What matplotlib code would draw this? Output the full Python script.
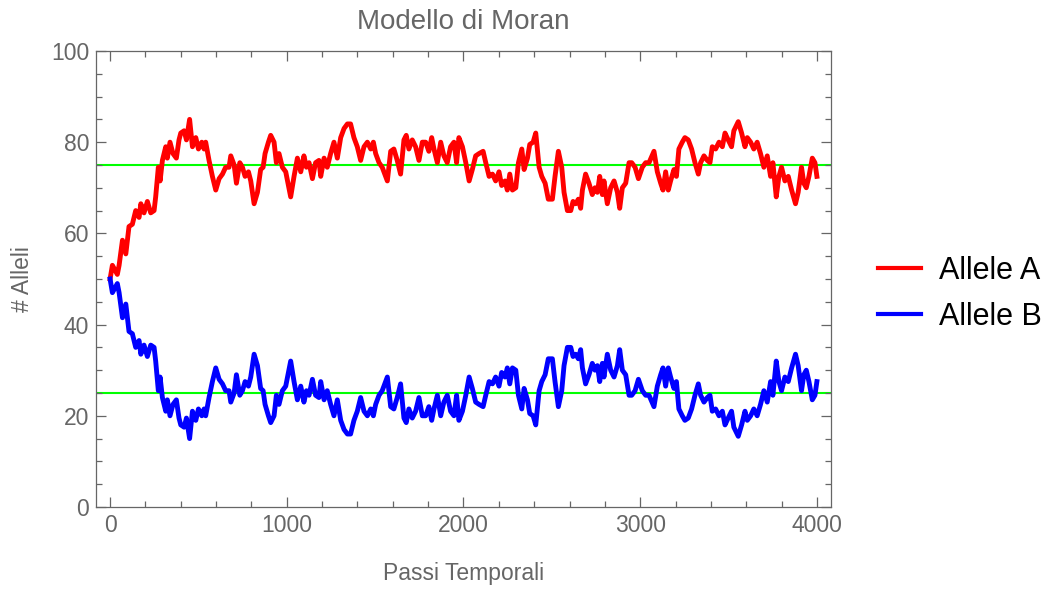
import matplotlib
matplotlib.use("Agg")
import matplotlib.pyplot as plt
from matplotlib.ticker import MultipleLocator

# Data (turning points of the random walk)
steps = [0, 13, 41, 51, 70, 89, 107, 126, 145, 164, 174, 192, 211, 230, 249, 258, 273, 283, 296, 315,
         324, 339, 356, 375, 390, 400, 419, 432, 450, 466, 485, 500, 519, 532, 541, 560, 579, 598, 617,
         636, 654, 673, 683, 702, 715, 734, 749, 764, 783, 796, 815, 834, 852, 866, 877, 896, 909, 928,
         941, 956, 975, 994, 1022, 1041, 1060, 1079, 1097, 1111, 1126, 1145, 1163, 1182, 1192, 1211,
         1229, 1248, 1267, 1286, 1305, 1324, 1343, 1361, 1380, 1399, 1418, 1437, 1456, 1475, 1490,
         1503, 1522, 1540, 1569, 1588, 1606, 1625, 1644, 1663, 1676, 1691, 1710, 1729, 1748, 1767,
         1786, 1804, 1820, 1833, 1852, 1871, 1889, 1908, 1927, 1946, 1961, 1974, 1994, 2013, 2032,
         2050, 2069, 2088, 2111, 2126, 2145, 2164, 2182, 2201, 2216, 2235, 2248, 2262, 2277, 2296,
         2311, 2330, 2343, 2362, 2375, 2394, 2409, 2428, 2443, 2462, 2480, 2503, 2518, 2537, 2556,
         2569, 2588, 2607, 2620, 2635, 2650, 2663, 2673, 2691, 2710, 2729, 2744, 2758, 2771, 2786,
         2795, 2814, 2833, 2852, 2871, 2884, 2899, 2918, 2937, 2952, 2971, 2990, 3012, 3031, 3050,
         3078, 3097, 3116, 3129, 3144, 3159, 3172, 3191, 3205, 3219, 3238, 3253, 3272, 3291, 3310,
         3329, 3342, 3361, 3380, 3395, 3408, 3427, 3446, 3465, 3480, 3498, 3517, 3530, 3555, 3574,
         3593, 3606, 3625, 3643, 3662, 3681, 3700, 3719, 3738, 3751, 3770, 3785, 3800, 3819, 3838,
         3857, 3879, 3894, 3913, 3926, 3940, 3955, 3974, 3989, 4000]
allele_a = [50, 53, 51, 53, 58.5, 55.5, 61.5, 62, 65, 63.5, 66.5, 64.5, 67, 64.5, 65, 68, 74.5, 71.5,
            76, 79, 76.5, 80, 77.5, 76.5, 80.5, 82, 82.5, 80.5, 85, 79, 81, 78.5, 80, 78.5, 80, 76,
            72.5, 69.5, 72, 73, 74.5, 74.5, 77, 75, 71, 75.5, 74.5, 72.5, 73.5, 71.5, 66.5, 69, 74,
            74.5, 77.5, 80, 81.5, 80, 75.5, 77.5, 74.5, 73.5, 68, 72.5, 76.5, 73.5, 77, 74.5, 75.5,
            72, 75.5, 76, 72.5, 76.5, 74.5, 77.5, 80, 76.5, 81, 83, 84, 84, 81, 79, 76, 79, 80,
            78.5, 80, 77.5, 75.5, 74.5, 71.5, 78, 78.5, 76, 73, 80.5, 81.5, 78.5, 80.5, 79, 76,
            80, 80, 78, 81, 78.5, 75.5, 80, 77, 75.5, 79, 80, 75.5, 81, 79, 75.5, 71.5, 74, 77,
            77.5, 78, 75.5, 72.5, 73, 71.5, 73.5, 70.5, 71.5, 69.5, 73, 69.5, 70, 75.5, 78.5, 74,
            76.5, 79.5, 80, 82, 74.5, 72.5, 71, 67.5, 67.5, 72.5, 78, 74.5, 69, 65, 65, 67, 66.5,
            67.5, 65.5, 69.5, 73, 71, 68.5, 70, 69, 72.5, 68.5, 71.5, 66.5, 70, 71.5, 69, 65.5,
            70, 71, 75.5, 75.5, 74.5, 72, 74.5, 75.5, 75.5, 78, 73.5, 71, 69.5, 73.5, 69.5, 71.5,
            74, 72.5, 78.5, 80, 81, 80.5, 78.5, 75.5, 73, 75.5, 77, 76, 75.5, 79, 78.5, 80, 79,
            82, 80.5, 79, 82.5, 84.5, 82, 79, 81, 80, 78.5, 80, 77.5, 74.5, 77, 72.5, 75.5, 68,
            72.5, 74.5, 71.5, 72.5, 69.5, 66.5, 69, 74.5, 71, 70, 72.5, 76.5, 75.5, 72.5]
allele_b = [100 - v for v in allele_a]
reference_levels = [75, 25]
series_labels = ["Allele A", "Allele B"]

gray = "#666666"
plt.rcParams["font.family"] = ["Liberation Sans", "DejaVu Sans"]

fig = plt.figure(figsize=(10.51, 5.92), dpi=100)
ax = fig.add_axes([0.0913, 0.1436, 0.6994, 0.7703])

for lv in reference_levels:
    ax.axhline(lv, color="#00ff00", lw=1.5, zorder=1)
ax.plot(steps, allele_a, color="#ff0000", lw=3.5, label=series_labels[0], zorder=3)
ax.plot(steps, allele_b, color="#0000ff", lw=3.5, label=series_labels[1], zorder=3)

ax.set_xlim(-80, 4080)
ax.set_ylim(0, 100)
ax.xaxis.set_major_locator(MultipleLocator(1000))
ax.xaxis.set_minor_locator(MultipleLocator(200))
ax.yaxis.set_major_locator(MultipleLocator(20))
ax.yaxis.set_minor_locator(MultipleLocator(5))
ax.tick_params(which="both", direction="in", top=True, right=True, color=gray,
               labelcolor=gray, labelsize=16.5, width=0.9)
ax.tick_params(which="major", length=7, pad=5)
ax.tick_params(which="minor", length=4)
for s in ax.spines.values():
    s.set_color(gray)
    s.set_linewidth(0.9)

ax.set_title("Modello di Moran", color=gray, fontsize=20, pad=16)
ax.set_xlabel("Passi Temporali", color=gray, fontsize=16.5, labelpad=18)
ax.set_ylabel("# Alleli", color=gray, fontsize=16.5, labelpad=12)

leg = ax.legend(loc="center left", bbox_to_anchor=(1.064, 0.467), frameon=False, fontsize=22,
                handlelength=1.4, handletextpad=0.6, labelspacing=0.52, borderaxespad=0.0,
                borderpad=0.0)
for line in leg.get_lines():
    line.set_linewidth(3)

fig.savefig("out.png", dpi=100)
